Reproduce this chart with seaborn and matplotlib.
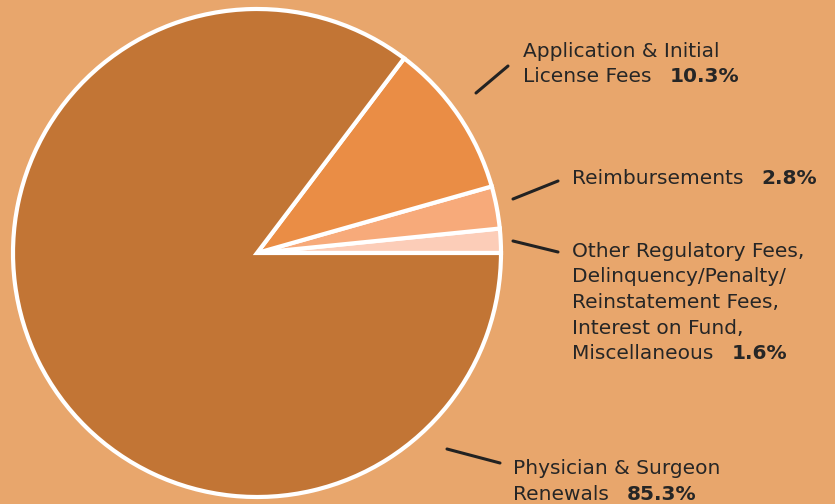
import matplotlib
matplotlib.use("Agg")
import matplotlib.pyplot as plt
import seaborn as sns
import numpy as np

# Data
categories = ["Other Regulatory Fees", "Reimbursements", "Application & Initial License Fees",
              "Physician & Surgeon Renewals"]
values = [1.6, 2.8, 10.3, 85.3]
label_lines = [
    ["Other Regulatory Fees,", "Delinquency/Penalty/", "Reinstatement Fees,",
     "Interest on Fund,", "Miscellaneous"],
    ["Reimbursements"],
    ["Application & Initial", "License Fees"],
    ["Physician & Surgeon", "Renewals"],
]
pct_labels = ["1.6%", "2.8%", "10.3%", "85.3%"]

BG = "#E8A66C"
slice_colors = ["#FCCDB8", "#F7AA7A", "#EA8D45", "#C27535"]

sns.set_theme(style="white", rc={"figure.facecolor": BG, "axes.facecolor": BG})
plt.rcParams["font.family"] = ["DejaVu Sans"]

W, H = 835, 504
fig = plt.figure(figsize=(W / 100, H / 100), dpi=100)
fig.patch.set_facecolor(BG)

cx, cy, R = 257, 253, 244
ax = fig.add_axes([(cx - R) / W, (H - cy - R) / H, 2 * R / W, 2 * R / H])
ax.set_facecolor(BG)
wedges, _ = ax.pie(values, colors=slice_colors, startangle=0, counterclock=True,
                   radius=1.0,
                   wedgeprops=dict(edgecolor="white", linewidth=3, joinstyle="miter"))
ax.set_xlim(-1.0, 1.0)
ax.set_ylim(-1.0, 1.0)
ax.set_aspect("equal")
ax.axis("off")
for w in wedges:
    w.set_clip_on(False)

# layout of labels (pixel coords, y from top)
text_x = [572, 572, 523, 513]
first_baseline = [257, 184, 57, 474]
line_step = 25.5
leader_start = [(513, 241), (513, 199), (476, 93), (447, 449)]
leader_end = [(558, 252), (558, 181), (508, 66), (500, 463)]

FS = 14.5
TXT = "#262626"

def fx(px):
    return px / W

def fy(py):
    return (H - py) / H

fig.canvas.draw()
renderer = fig.canvas.get_renderer()
for i in range(len(values)):
    lines = label_lines[i]
    for j, line in enumerate(lines):
        y = first_baseline[i] + j * line_step
        t = fig.text(fx(text_x[i]), fy(y), line, fontsize=FS, color=TXT,
                     va="baseline", ha="left")
        if j == len(lines) - 1:
            bb = t.get_window_extent(renderer=renderer)
            fig.text((bb.x1 + 18) / W, fy(y), pct_labels[i], fontsize=FS,
                     color=TXT, fontweight="bold", va="baseline", ha="left")
    (x0, y0), (x1, y1) = leader_start[i], leader_end[i]
    fig.add_artist(plt.Line2D([fx(x0), fx(x1)], [fy(y0), fy(y1)],
                              color="#222222", lw=2.2, transform=fig.transFigure))

fig.savefig("out.png", dpi=100, facecolor=BG)
